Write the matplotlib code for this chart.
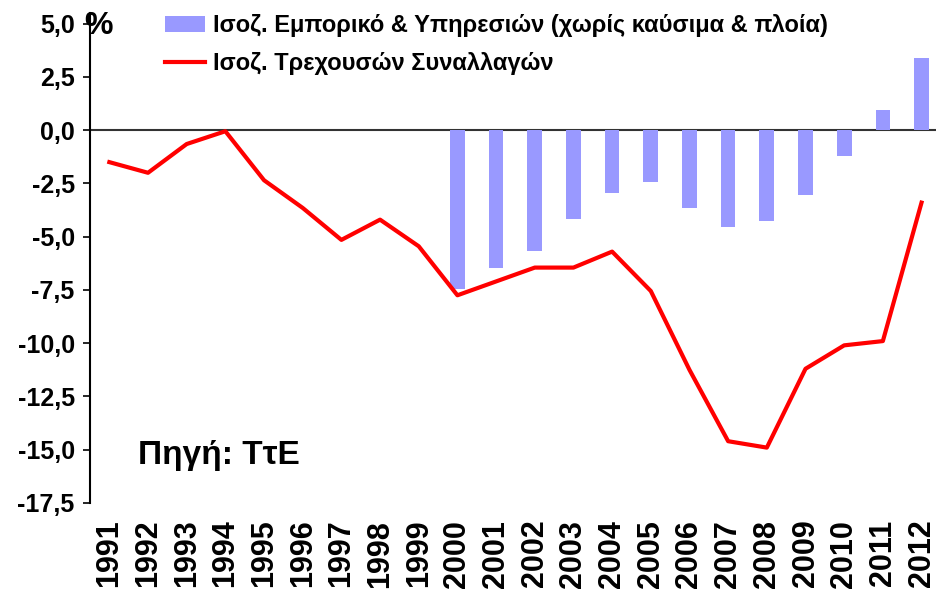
import numpy as np
import matplotlib
matplotlib.use("Agg")
import matplotlib.pyplot as plt
from matplotlib.ticker import FuncFormatter
from matplotlib.lines import Line2D
from matplotlib.patches import Patch

plt.rcParams['font.family'] = ['Liberation Sans', 'DejaVu Sans']
plt.rcParams['font.weight'] = 'bold'

# years on the x axis
years = [str(y) for y in range(1991, 2013)]
# current account balance, % of GDP
current_acc = [-1.5, -2.0, -0.65, -0.05, -2.35, -3.65, -5.15, -4.2, -5.45,
               -7.75, -7.1, -6.45, -6.45, -5.7, -7.55, -11.25, -14.6, -14.9,
               -11.2, -10.1, -9.9, -3.4]
# trade & services balance (excl. fuel & ships), from 2000 on
trade_years = years[9:]
trade_serv = [-7.45, -6.45, -5.65, -4.15, -2.95, -2.45, -3.65, -4.55,
              -4.25, -3.05, -1.2, 0.95, 3.4]
yticks = np.arange(-17.5, 5.1, 2.5)

fig = plt.figure(figsize=(9.37, 6.01), dpi=100)
ax = fig.add_axes([90/937, 1-503/601, 1-90/937, (503-13)/601])

x = np.arange(len(years))
xb = x[9:]
ax.bar(xb, trade_serv, width=0.38, color='#9999FF', zorder=2)
ax.plot(x, current_acc, color='#FF0000', lw=3, zorder=3)
ax.axhline(0, color='#333333', lw=1.5, zorder=1)

ax.set_xlim(-0.5, 21.4)
ax.set_ylim(-17.5, 5.5)
ax.set_yticks(yticks)
ax.yaxis.set_major_formatter(FuncFormatter(lambda v, p: f"{v:.1f}".replace('.', ',')))
ax.set_xticks(x)
ax.set_xticklabels(years, rotation=90, fontsize=22, fontweight='bold')
ax.tick_params(axis='x', length=0, pad=12)
ax.tick_params(axis='y', length=5, width=1.2, labelsize=18, pad=6)
for lab in ax.get_yticklabels():
    lab.set_fontweight('bold')

for s in ['top', 'right', 'bottom']:
    ax.spines[s].set_visible(False)
ax.spines['left'].set_linewidth(1.5)
ax.spines['left'].set_bounds(-17.5, 5.5)

fig.text(84/937, 1-26/601, '%', fontsize=23, fontweight='bold', va='center', ha='left')
ax.text(0.75, -15.25, 'Πηγή: ΤτΕ', fontsize=24, fontweight='bold', va='center', ha='left')

handles = [Patch(facecolor='#9999FF'),
           Line2D([0], [0], color='#FF0000', lw=3)]
labels = ['Ισοζ. Εμπορικό & Υπηρεσιών (χωρίς καύσιμα & πλοία)',
          'Ισοζ. Τρεχουσών Συναλλαγών']
fig.legend(handles, labels, loc='upper left', bbox_to_anchor=(165/937, 1-14/601),
           frameon=False, prop={'weight': 'bold', 'size': 17},
           handlelength=1.7, handleheight=0.65, handletextpad=0.35,
           labelspacing=0.62, borderaxespad=0, borderpad=0)

fig.savefig('out.png', dpi=100)
